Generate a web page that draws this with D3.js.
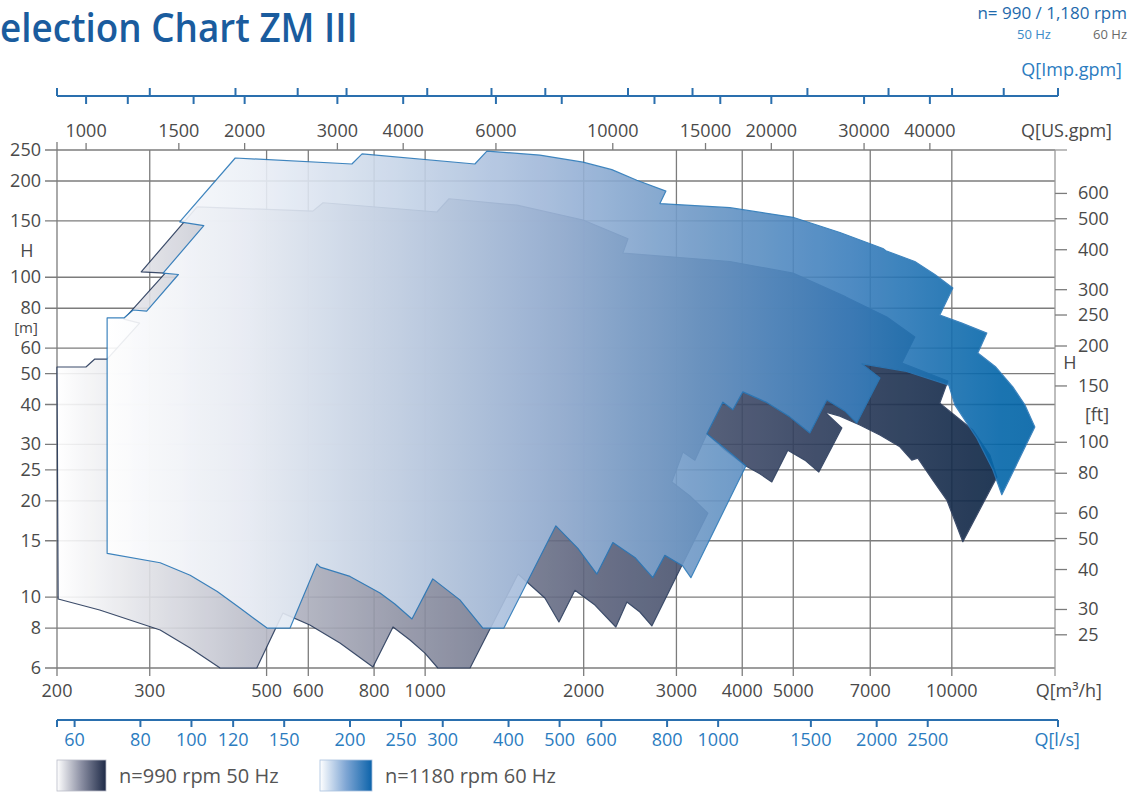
<!DOCTYPE html>
<html>
<head>
<meta charset="utf-8">
<script src="https://cdn.jsdelivr.net/npm/d3@7/dist/d3.min.js"></script>
<style>
  body { margin: 0; background: #fff; }
  text { font-family: "Open Sans", "DejaVu Sans", sans-serif; }
</style>
</head>
<body>
<div class="svg"></div>
<script>
// outline of the 60 Hz field, [Q m3/h, H m]
var field60 = [[249,74.6],[268,74.6],[279,79.0],[296,78.4],[340,102],[318,103],[380,145],[342,149],
  [436,236],[726,226],[759,243],[1243,226],[1310,248],[1651,241],[1994,229],[2262,217],[2523,201],
  [2865,186],[2791,170],[3790,165],[4992,154],[6131,138],[7398,123],[7495,121],[8506,112],[9284,102],
  [10044,92.6],[9489,76.2],[10447,71.9],[11653,66.9],[11204,58.0],[12122,52.4],[13056,45.4],[13759,39.9],
  [14374,34.0],[12443,20.9],[11964,25.0],[11155,31.4],[10132,39.9],[9870,46.0],[8146,50.9],[6748,53.6],
  [7302,48.4],[6601,35.0],[6265,38.2],[5790,41.3],[5376,32.6],[4922,36.6],[4436,40.7],[4011,43.8],
  [3840,38.5],[3676,40.7],[3427,32.4],[3840,27.8],[4064,25.7],[3196,11.5],[3086,12.5],[2852,13.5],
  [2706,11.5],[2502,13.3],[2272,14.8],[2119,11.8],[1950,14.2],[1771,16.7],[1411,8.0],[1287,8.0],
  [1164,9.8],[1034,11.4],[944,8.54],[876,9.51],[821,10.3],[720,11.6],[632,12.4],[623,12.7],[554,8.0],
  [501,8.0],[445,9.24],[403,10.4],[358,11.7],[314,12.8],[249,13.7]];

// outline of the 50 Hz field, [Q m3/h, H m]
var field50 = [[200,52.4],[227,52.4],[236,55.5],[249,55.5],[287,71.9],[268,74.0],[321,103],[289,104],
  [369,166],[612,161],[640,171],[1053,160],[1110,176],[1494,168],[1994,151],[2427,132],[2374,119],
  [3790,112],[4992,103],[6292,86.8],[7527,75.1],[8506,65.0],[8039,53.9],[9827,47.4],[9489,40.4],
  [10962,33.3],[11808,27.8],[12176,23.7],[10493,14.9],[9784,20.1],[9203,23.2],[8618,27.2],[8394,26.8],
  [7968,29.5],[7302,32.1],[6689,34.5],[6131,36.8],[5740,37.9],[6183,33.8],[5591,24.6],[5260,26.8],
  [4882,28.8],[4552,22.9],[4320,24.3],[4064,25.7],[3708,28.8],[3427,32.4],[3252,26.8],[3086,28.4],
  [2940,22.9],[3182,20.7],[3441,18.3],[2694,8.12],[2557,8.98],[2416,9.65],[2302,8.06],[2101,9.44],
  [1925,10.5],[1795,8.36],[1688,9.93],[1501,11.8],[1217,6.0],[1057,6.0],[999,6.68],[936,7.34],
  [869,8.06],[796,6.04],[689,7.18],[604,8.18],[537,8.91],[479,6.0],[408,6.0],[358,6.93],[314,7.89],
  [241,9.11],[201,9.86]];

var qTicks = [200, 300, 500, 600, 800, 1000, 2000, 3000, 4000, 5000, 7000, 10000];
var hTicks = [250, 200, 150, 100, 80, 60, 50, 40, 30, 25, 20, 15, 10, 8, 6];
var ftTicks = [600, 500, 400, 300, 250, 200, 150, 100, 80, 60, 50, 40, 30, 25];
var usTicks = [1000, 1500, 2000, 3000, 4000, 6000, 10000, 15000, 20000, 30000, 40000];
var lsTicks = [60, 80, 100, 120, 150, 200, 250, 300, 400, 500, 600, 800, 1000, 1500, 2000, 2500];
var usBlueTicks = [1000, 1200, 1600, 2000, 3000, 4000, 6000, 8000, 12000, 16000, 20000, 30000, 40000];
var impBlueTicks = [1100, 1600, 2100, 2600, 3700, 4900, 6200, 8900, 11800, 19500, 27800, 36700, 46000];

function SelChart(settings) {
  var k;
  for (k in SelChart.defaults) this[k] = SelChart.defaults[k];
  for (k in settings) this[k] = settings[k];
  this.appendSvg('div.svg');
  this.scales();
  this.defs();
  this.drawGrid();
  this.drawFields();
  this.drawAxes();
  this.drawTexts();
}

SelChart.defaults = {
  'svg_width': 1134,
  'svg_height': 793,
  'left': 57,
  'right': 1055,
  'top': 150,
  'bottom': 668,
  'grey': '#4a4a4a',
  'blue': '#2b7cbf'
};

SelChart.prototype.appendSvg = function (selector) {
  this.svg = d3.select(selector || 'body')
    .append('svg')
    .attr('width', this.svg_width)
    .attr('height', this.svg_height);
};

SelChart.prototype.scales = function () {
  var qMax = 15700;
  this.x = d3.scaleLog().domain([200, qMax]).range([this.left, this.right]);
  this.y = d3.scaleLog().domain([6, 250]).range([this.bottom, this.top]);
  this.yFt = d3.scaleLog().domain([6 * 3.28084, 250 * 3.28084]).range([this.bottom, this.top]);
  this.xUs = d3.scaleLog().domain([200 * 4.40287, qMax * 4.40287]).range([this.left, this.right]);
  this.xImp = d3.scaleLog().domain([200 * 3.66615, qMax * 3.66615]).range([this.left, this.right]);
  this.xLs = d3.scaleLog().domain([200 / 3.6, qMax / 3.6]).range([this.left, this.right]);
};

SelChart.prototype.defs = function () {
  var defs = this.svg.append('defs');
  var addGrad = function (id, stops, x1, x2) {
    var g = defs.append('linearGradient').attr('id', id);
    if (x1 !== undefined) {
      g.attr('gradientUnits', 'userSpaceOnUse').attr('x1', x1).attr('x2', x2).attr('y1', 0).attr('y2', 0);
    }
    g.selectAll('stop').data(stops).enter().append('stop')
      .attr('offset', function (d) { return d[0]; })
      .attr('stop-color', function (d) { return d[1]; });
  };
  addGrad('g50', [[0, '#ffffff'], [0.205, '#bcbeca'], [0.364, '#9093a5'], [0.576, '#5a617b'],
    [0.788, '#313f5e'], [1, '#0b2444']], 57, 1000);
  addGrad('g60', [[0, '#ffffff'], [0.154, '#ecf0f7'], [0.316, '#c7d5e8'], [0.477, '#9fb7d9'],
    [0.639, '#6d98c6'], [0.801, '#3c7fbd'], [0.962, '#0366a9'], [1, '#0062a6']], 107, 1035);
  addGrad('leg50', [[0, '#ffffff'], [0.5, '#8a8ea2'], [1, '#1e2a47']]);
  addGrad('leg60', [[0, '#ffffff'], [0.5, '#7fa6d4'], [1, '#0c63aa']]);
};

SelChart.prototype.drawGrid = function () {
  var _self = this;
  var g = this.svg.append('g').attr('stroke', '#7c7c7c').attr('stroke-width', 1.3);
  g.selectAll('line.v').data(qTicks.slice(1)).enter().append('line')
    .attr('x1', function (d) { return _self.x(d); })
    .attr('x2', function (d) { return _self.x(d); })
    .attr('y1', this.top).attr('y2', this.bottom + 8);
  g.selectAll('line.h').data(hTicks).enter().append('line')
    .attr('x1', this.left - 12).attr('x2', this.right)
    .attr('y1', function (d) { return _self.y(d); })
    .attr('y2', function (d) { return _self.y(d); });
  // left and right frame
  g.append('line').attr('x1', this.left).attr('x2', this.left)
    .attr('y1', this.top - 8).attr('y2', this.bottom + 8);
  g.append('line').attr('x1', this.right).attr('x2', this.right)
    .attr('y1', this.top).attr('y2', this.bottom + 8).attr('stroke', '#9a9a9a');
  g.append('line').attr('x1', this.right).attr('x2', this.right + 12)
    .attr('y1', this.top).attr('y2', this.top).attr('stroke', '#9a9a9a');
  // ft ticks
  g.selectAll('line.ft').data(ftTicks).enter().append('line')
    .attr('x1', this.right).attr('x2', this.right + 12)
    .attr('y1', function (d) { return _self.yFt(d); })
    .attr('y2', function (d) { return _self.yFt(d); });
  // US gpm ticks on top edge
  g.selectAll('line.us').data(usTicks).enter().append('line')
    .attr('x1', function (d) { return _self.xUs(d); })
    .attr('x2', function (d) { return _self.xUs(d); })
    .attr('y1', this.top - 7).attr('y2', this.top);
};

SelChart.prototype.drawFields = function () {
  var _self = this;
  var line = d3.line()
    .x(function (d) { return _self.x(d[0]); })
    .y(function (d) { return _self.y(d[1]); });
  this.svg.append('path')
    .attr('d', line(field50) + 'Z')
    .attr('fill', 'url(#g50)')
    .attr('stroke', '#27395a').attr('stroke-width', 1.2).attr('stroke-linejoin', 'round')
    .attr('opacity', 0.9);
  this.svg.append('path')
    .attr('d', line(field60) + 'Z')
    .attr('fill', 'url(#g60)')
    .attr('stroke', '#2a78b8').attr('stroke-width', 1.2).attr('stroke-linejoin', 'round')
    .attr('opacity', 0.9);
};

SelChart.prototype.drawAxes = function () {
  var _self = this;
  // top blue axis: US gpm ticks below, Imp gpm ticks above
  var gt = this.svg.append('g').attr('stroke', '#2a6fae').attr('stroke-width', 2);
  gt.append('line').attr('x1', this.left).attr('x2', this.right + 3).attr('y1', 96).attr('y2', 96);
  gt.selectAll('line.e').data([this.left, this.right + 3]).enter().append('line')
    .attr('x1', function (d) { return d; }).attr('x2', function (d) { return d; })
    .attr('y1', 88).attr('y2', 96);
  gt.selectAll('line.d').data(usBlueTicks).enter().append('line')
    .attr('x1', function (d) { return _self.xUs(d); })
    .attr('x2', function (d) { return _self.xUs(d); })
    .attr('y1', 96).attr('y2', 104);
  gt.selectAll('line.u').data(impBlueTicks).enter().append('line')
    .attr('x1', function (d) { return _self.xImp(d); })
    .attr('x2', function (d) { return _self.xImp(d); })
    .attr('y1', 88).attr('y2', 96);

  // bottom blue axis (l/s)
  var gb = this.svg.append('g').attr('stroke', '#2a6fae').attr('stroke-width', 2);
  gb.append('line').attr('x1', this.left).attr('x2', this.right + 3).attr('y1', 720).attr('y2', 720);
  gb.selectAll('line.t').data([200 / 3.6].concat(lsTicks)).enter().append('line')
    .attr('x1', function (d) { return _self.xLs(d); })
    .attr('x2', function (d) { return _self.xLs(d); })
    .attr('y1', 720).attr('y2', 727);
  gb.append('line').attr('x1', this.right + 3).attr('x2', this.right + 3).attr('y1', 720).attr('y2', 727);

  var lab = function (data, xf, yPos, anchor, fill) {
    _self.svg.append('g').selectAll('text').data(data).enter().append('text')
      .attr('x', xf).attr('y', yPos)
      .attr('text-anchor', anchor).attr('font-size', 18).attr('fill', fill)
      .text(function (d) { return d; });
  };
  lab(hTicks, this.left - 16, function (d) { return _self.y(d) + 6; }, 'end', this.grey);
  lab(ftTicks, this.right + 23, function (d) { return _self.yFt(d) + 6; }, 'start', this.grey);
  lab(qTicks, function (d) { return _self.x(d); }, 697, 'middle', this.grey);
  lab(usTicks, function (d) { return _self.xUs(d); }, 137, 'middle', this.grey);
  lab(lsTicks, function (d) { return _self.xLs(d); }, 746, 'middle', this.blue);
};

SelChart.prototype.drawTexts = function () {
  var svg = this.svg;
  var t = function (x, y, s, size, fill, anchor, weight) {
    return svg.append('text').attr('x', x).attr('y', y).attr('font-size', size)
      .attr('fill', fill).attr('text-anchor', anchor || 'start')
      .attr('font-weight', weight || 400).text(s);
  };
  // axis names
  t(27, 257, 'H', 18, this.grey, 'middle');
  t(26, 333, '[m]', 15, this.grey, 'middle');
  t(1070, 369, 'H', 18, this.grey, 'middle');
  t(1097, 421, '[ft]', 18, this.grey, 'middle');
  t(1102, 697, 'Q[m\u00b3/h]', 18, this.grey, 'end');
  t(1112, 137, 'Q[US.gpm]', 18, this.grey, 'end');
  t(1122, 76, 'Q[Imp.gpm]', 18, this.blue, 'end');
  t(1080, 746, 'Q[l/s]', 18, this.blue, 'end');

  // header
  t(1127, 19, 'n= 990 / 1,180 rpm', 17, '#1f6aac', 'end');
  t(1034, 39, '50 Hz', 13, '#3a8ac8', 'middle');
  t(1127, 39, '60 Hz', 13, '#6a6a6a', 'end');

  // title, first letter runs off the page
  var title = t(0, 42, 'Selection Chart ZM III', 40, '#1a5c9e', 'start', 600);
  var node = title.node();
  var wS = node.getSubStringLength(0, 1);
  var wRest = node.getSubStringLength(1, node.getNumberOfChars() - 1);
  var sc = 358 / wRest;
  title.attr('transform', 'translate(' + (-wS * sc) + ',0) scale(' + sc + ',1)');

  // legend
  svg.append('rect').attr('x', 57).attr('y', 760).attr('width', 49).attr('height', 31)
    .attr('fill', 'url(#leg50)').attr('stroke', '#b9bcc8').attr('stroke-width', 0.8);
  svg.append('rect').attr('x', 320).attr('y', 760).attr('width', 52).attr('height', 31)
    .attr('fill', 'url(#leg60)').attr('stroke', '#a9c1de').attr('stroke-width', 0.8);
  t(119, 783, 'n=990 rpm 50 Hz', 20, '#555', 'start');
  t(385, 783, 'n=1180 rpm 60 Hz', 20, '#555', 'start');
};

var chart = new SelChart({});
</script>
</body>
</html>
